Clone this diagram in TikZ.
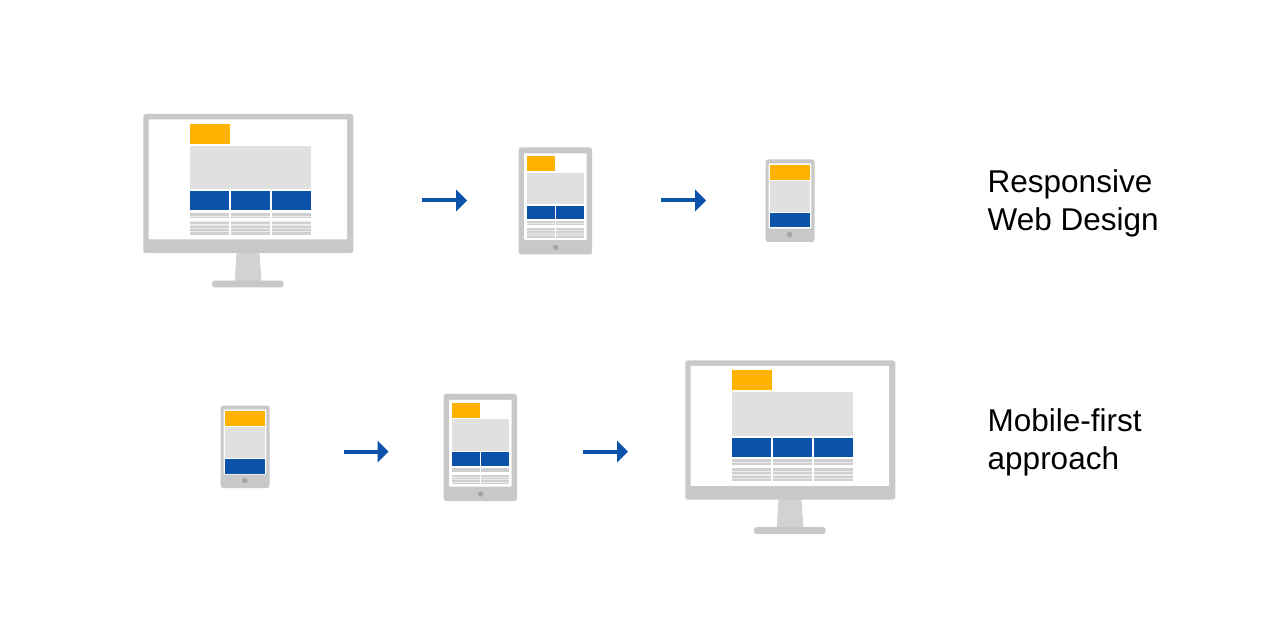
\documentclass[tikz,border=0pt]{standalone}
\usepackage{fontspec}
\setmainfont{Liberation Sans}
\definecolor{frame}{HTML}{C8C8C8}
\definecolor{neck}{HTML}{D2D2D2}
\definecolor{knob}{HTML}{A4A4A4}
\definecolor{panel}{HTML}{E0E0E0}
\definecolor{rows}{HTML}{CFCFCF}
\definecolor{rowgap}{HTML}{ECECEC}
\definecolor{amber}{HTML}{FFB300}
\definecolor{navy}{HTML}{0D52AA}
\tikzset{
  x=1pt,y=-1pt,
  shell/.style={fill=frame,rounded corners=2.5pt},
  glass/.style={fill=white,rounded corners=0.8pt},
  hero/.style={fill=amber},
  block/.style={fill=panel},
  band/.style={fill=navy},
  rowline/.style={fill=rows},
  flow/.style={draw=navy,line width=4pt},
  flowhead/.style={fill=navy},
  caption/.style={font=\fontsize{31.5}{38.5}\selectfont,align=left,anchor=north west,inner sep=0pt,text=black},
}
% text rows beneath a column: #1 left, #2 right, #3 list of top/height
\newcommand{\textrows}[3]{\foreach \t/\h in {#3}{\fill[rowline] (#1,\t) rectangle (#2,\t+\h);}}
\newcommand{\monitor}[2]{\begin{scope}[shift={(#1,#2)}]
  \fill[neck] (236.7,250) -- (259.3,250) -- (261.5,282) -- (234.7,282) -- cycle;
  \fill[shell] (212,280.7) rectangle (283.5,287.5);
  \fill[shell] (143.3,114) rectangle (353.3,253);
  \fill[glass] (148.5,119.3) rectangle (347,239.3);
  \fill[hero] (190,123.7) rectangle (230,144);
  \fill[block] (190,146) rectangle (311,189);
  \fill[band] (190,191) rectangle (229,210.5);
  \fill[band] (231.2,191) rectangle (269.7,210.5);
  \fill[band] (272,191) rectangle (311,210.5);
  \foreach \a/\b in {190/229,231.2/269.7,272/311}{
    \fill[rowgap] (\a,213) rectangle (\b,218.5);
    \fill[rowgap] (\a,221.5) rectangle (\b,234.7);
    \textrows{\a}{\b}{212.8/2.8,216.6/1.9,221.6/2.8,225.8/2,229/2,232.4/2.2}}
\end{scope}}
\newcommand{\tablet}[2]{\begin{scope}[shift={(#1,#2)}]
  \fill[shell] (518.7,147.5) rectangle (592,254.5);
  \fill[glass] (524,153.3) rectangle (586.7,240);
  \fill[hero] (526.7,156) rectangle (555,171);
  \fill[block] (526.7,172.7) rectangle (584.3,204);
  \fill[band] (526.7,205.7) rectangle (554.7,219.5);
  \fill[band] (556.3,205.7) rectangle (584.3,219.5);
  \foreach \a/\b in {526.7/554.7,556.3/584.3}{
    \fill[rowgap] (\a,221) rectangle (\b,225.5);
    \fill[rowgap] (\a,228) rectangle (\b,237.5);
    \textrows{\a}{\b}{221/2,223.8/1.7,228/2,231/1.8,233.6/1.8,236/1.6}}
  \fill[knob] (555.7,247.5) circle (2.7);
\end{scope}}
\newcommand{\phone}[2]{\begin{scope}[shift={(#1,#2)}]
  \fill[shell] (765.7,159.5) rectangle (814.7,242);
  \fill[glass] (768.7,163.3) rectangle (811.3,228.7);
  \fill[hero] (769.7,164.7) rectangle (810.3,179.7);
  \fill[block] (769.7,181) rectangle (810.3,212);
  \fill[band] (769.7,213) rectangle (810.3,227.5);
  \fill[knob] (789.7,234.5) circle (2.8);
\end{scope}}
% arrow: shaft between named coordinates, head as a filled triangle
\newcommand{\flowarrow}[3]{
  \coordinate (#1s) at (#2,#3);
  \coordinate (#1e) at (#2+34,#3);
  \coordinate (#1t) at (#2+45,#3);
  \draw[flow] (#1s) -- (#1e);
  \fill[flowhead] (#2+34,#3-11) -- (#1t) -- (#2+34,#3+11) -- cycle;
}
\begin{document}
\begin{tikzpicture}
\useasboundingbox (0,0) rectangle (1267,628);
\monitor{0}{0}
\tablet{0}{0}
\phone{0}{0}
\phone{-545}{246}
\tablet{-75}{246.5}
\monitor{542}{246.5}
\flowarrow{a}{422}{200.5}
\flowarrow{b}{661}{200.5}
\flowarrow{c}{343.5}{451.7}
\flowarrow{d}{583}{451.7}
\node[caption] (rwd) at (987.5,169) {Responsive\\Web Design};
\node[caption] (mfa) at (987.5,408) {Mobile-first\\approach};
\end{tikzpicture}
\end{document}
